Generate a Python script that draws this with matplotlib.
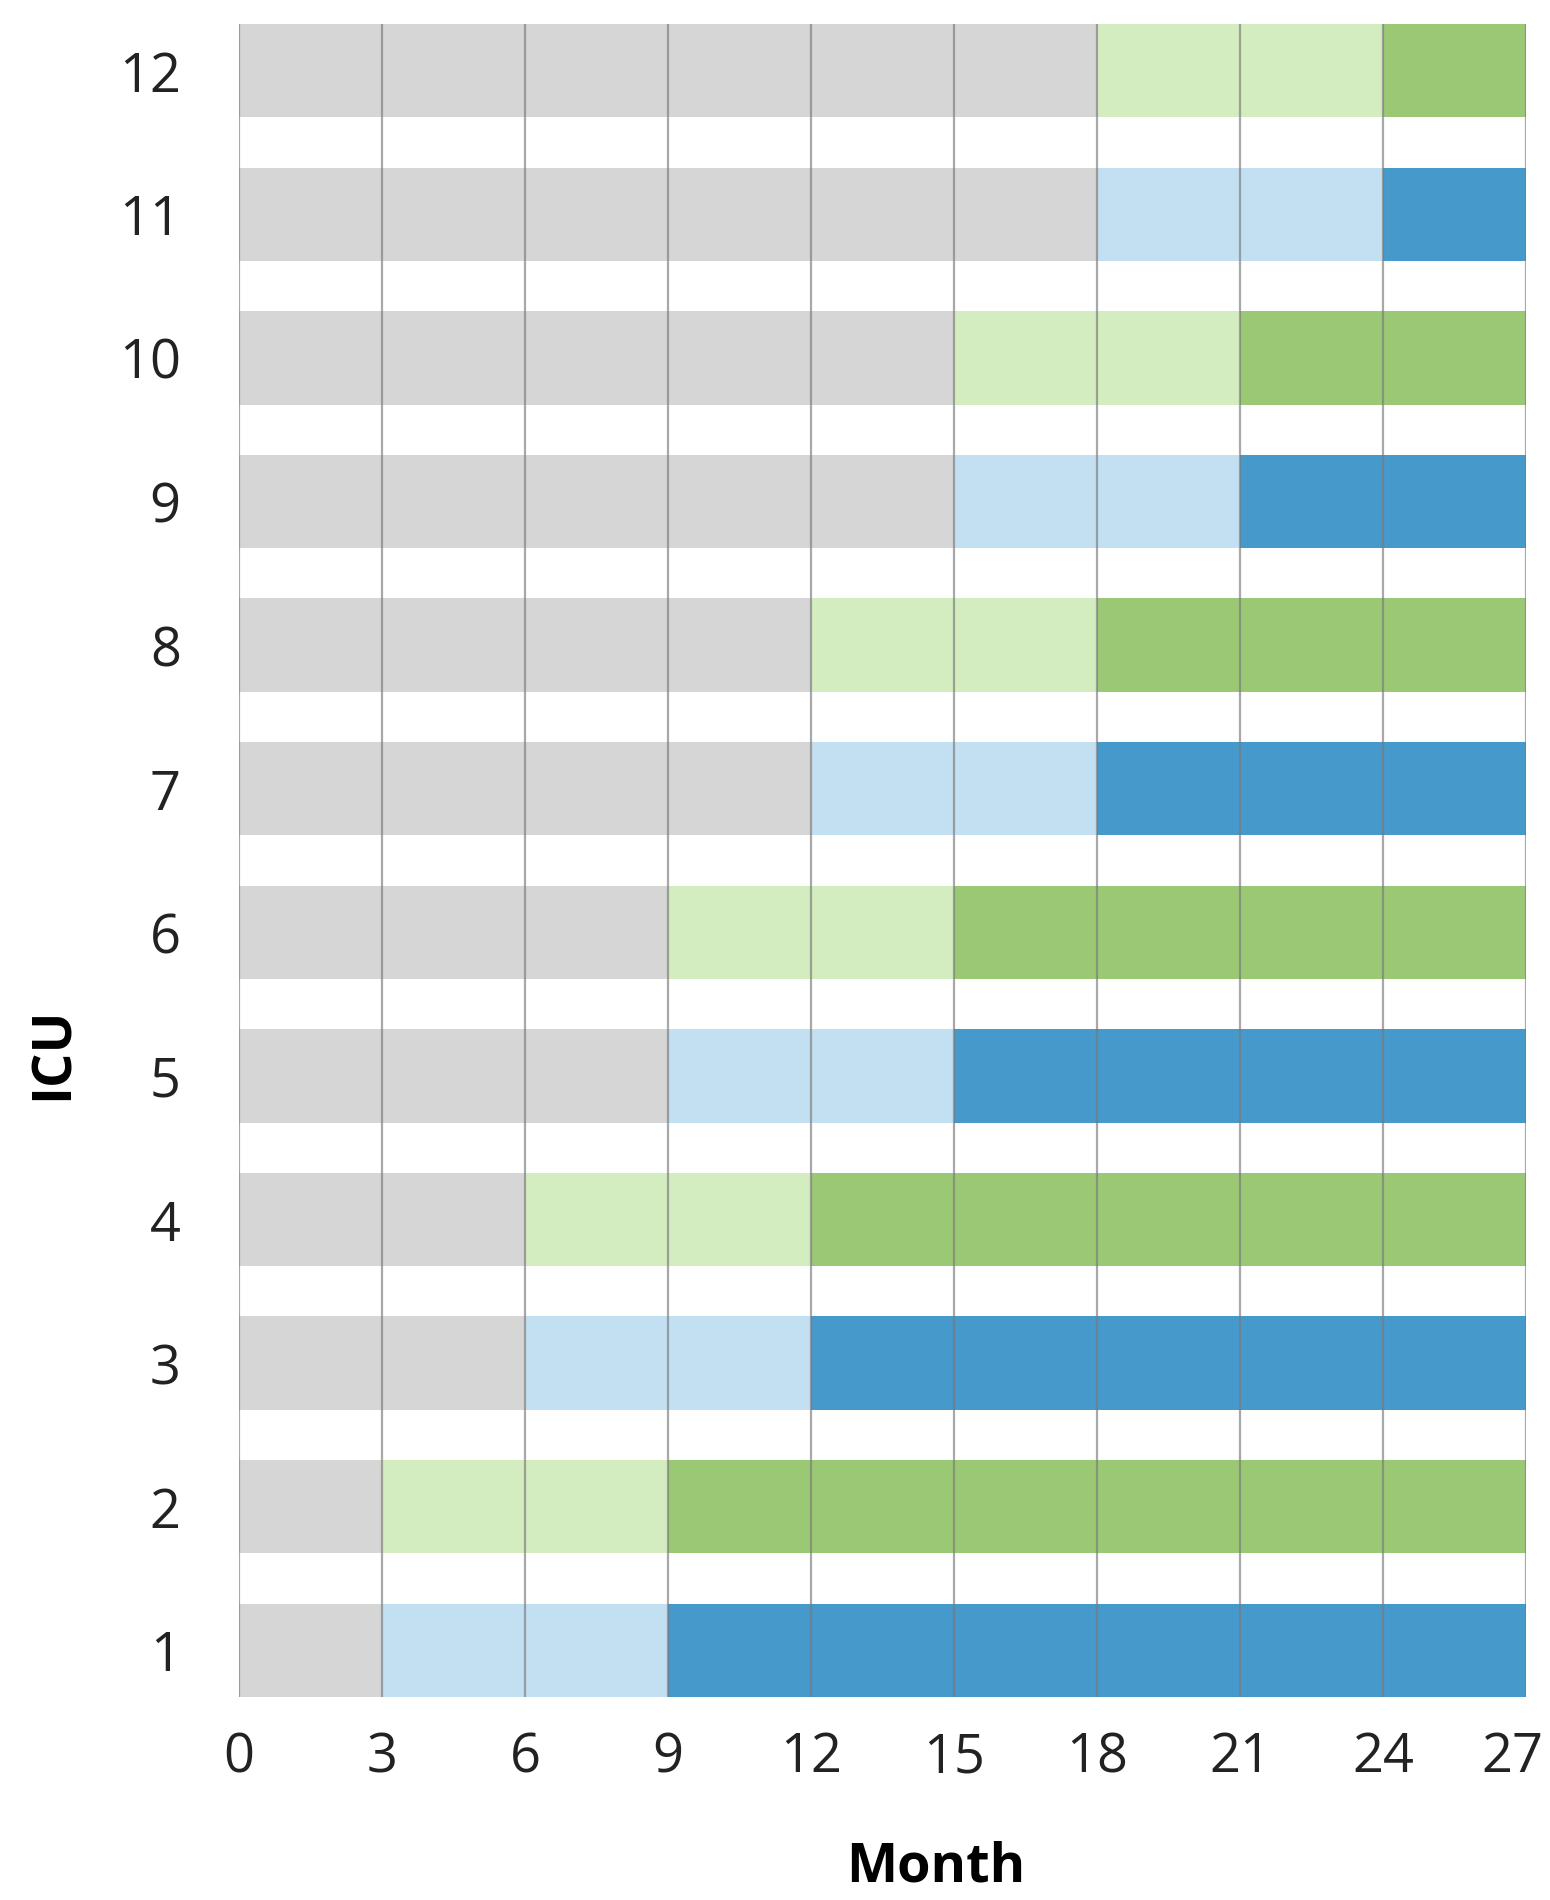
import matplotlib
matplotlib.use("Agg")
import matplotlib.pyplot as plt
import matplotlib.transforms as mtransforms
import numpy as np

plt.rcParams['font.family'] = ['Open Sans', 'DejaVu Sans']

# ICU units and the month each phase ends
icu = np.arange(1, 13)
gray_end = [3, 3, 6, 6, 9, 9, 12, 12, 15, 15, 18, 18]
light_end = [9, 9, 12, 12, 15, 15, 18, 18, 21, 21, 24, 24]
total_months = 27
x_ticks = [0, 3, 6, 9, 12, 15, 18, 21, 24, 27]

gray = '#d6d6d6'
light_green = '#d4edc0'
dark_green = '#9bc874'
light_blue = '#c3dff2'
dark_blue = '#4599cb'

fig = plt.figure(figsize=(15.5, 19), dpi=100)
ax = fig.add_axes([0.1542, 0.1068, 0.9845 - 0.1542, 0.9874 - 0.1068])

h = 0.65
for i, n in enumerate(icu):
    if n % 2 == 0:
        lc, dc = light_green, dark_green
    else:
        lc, dc = light_blue, dark_blue
    ax.barh(n, gray_end[i], left=0, height=h, color=gray, zorder=1)
    ax.barh(n, light_end[i] - gray_end[i], left=gray_end[i], height=h, color=lc, zorder=1)
    ax.barh(n, total_months - light_end[i], left=light_end[i], height=h, color=dc, zorder=1)

# vertical grid lines drawn over the bars
for xv in x_ticks:
    ax.axvline(xv, color='#7a7a7a', alpha=0.65, linewidth=1.6, zorder=3)

ax.set_xlim(0, total_months)
ax.set_ylim(1 - h / 2, 12 + h / 2)
ax.set_xticks(x_ticks)
ax.set_yticks(icu)
ax.tick_params(axis='both', length=0, labelsize=39, colors='#222222')
ax.tick_params(axis='y', pad=42)
ax.tick_params(axis='x', pad=24)
for s in ax.spines.values():
    s.set_visible(False)

# nudge the last x label left so it stays inside the figure
last = ax.get_xticklabels()[-1]
last.set_transform(last.get_transform() +
                   mtransforms.ScaledTranslation(-14 / 100, 0, fig.dpi_scale_trans))

ax.set_xlabel('Month', fontsize=39, fontweight='bold')
ax.set_ylabel('ICU', fontsize=39, fontweight='bold')
ax.xaxis.set_label_coords(0.541, -0.1016)
ax.xaxis.label.set_va('center')
ax.yaxis.set_label_coords(-0.144, 0.385)
ax.yaxis.label.set_va('center')

fig.savefig('out.png', dpi=100, facecolor='white')
